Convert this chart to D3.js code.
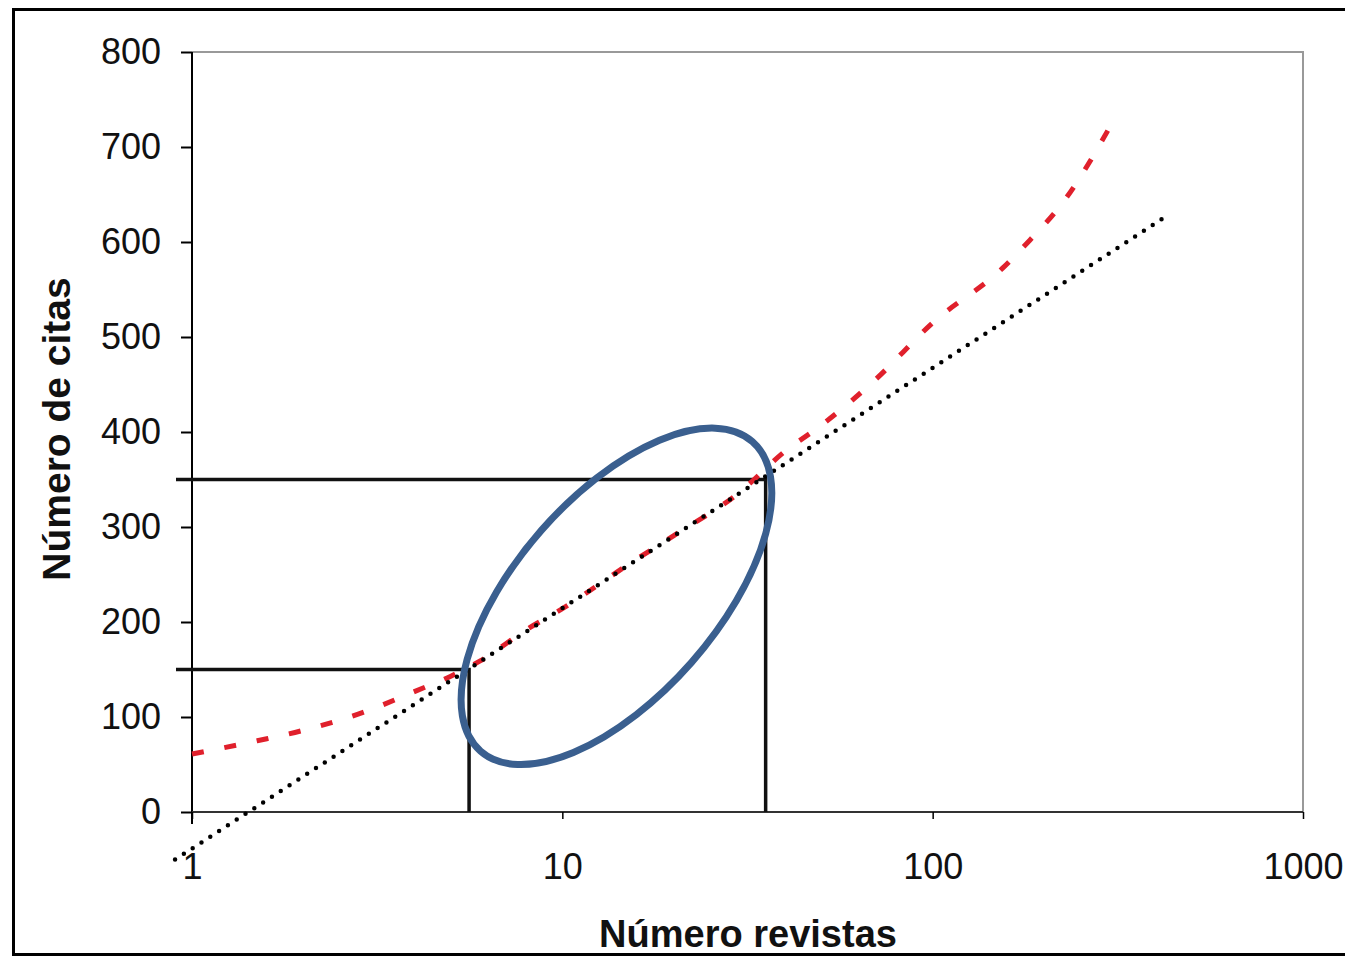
<!DOCTYPE html>
<html>
<head>
<meta charset="utf-8">
<script src="https://cdn.jsdelivr.net/npm/d3@7"></script>
<style>
  body { margin: 0; background: #fff; }
  svg { display: block; font-family: "Liberation Sans", Arial, sans-serif; }
</style>
</head>
<body>
<script>
// data
var xTicks = [1, 10, 100, 1000];
var yTicks = [0, 100, 200, 300, 400, 500, 600, 700, 800];

// red dashed curve (observed citations)
var citasX = [1, 1.5, 2, 3, 4, 5, 6, 8, 10, 15, 20, 30, 40, 50, 70, 100, 155, 176, 229, 312];
var citasY = [61, 75, 86, 107, 127, 143, 159, 192, 214, 260, 291, 336, 380, 407, 455, 515, 573, 595, 646, 732];

// dotted logarithmic trend: y = a + b*log10(x)
var trendX = [0.9, 418];
var trendA = -38.5, trendB = 253;

// reference lines (x value, y value)
var refX = [5.6, 35.4];
var refY = [150, 350];

// annotation ellipse centre in data units
var ellipseCentre = [14, 227];

function init_svg() {
    var width = 1345;
    var height = 958;
    var svg = d3.select("body")
        .append("svg")
        .attr("width", width)
        .attr("height", height);

    var left = 192, right = 1303, top = 52, bottom = 812;

    var x = d3.scaleLog().domain([1, 1000]).range([left, right]);
    var y = d3.scaleLinear().domain([0, 800]).range([bottom, top]);

    // outer frame
    svg.append("rect")
        .attr("x", 13.5).attr("y", 9.5)
        .attr("width", 1345).attr("height", 945)
        .attr("fill", "none")
        .attr("stroke", "#000")
        .attr("stroke-width", 3);

    // plot border (top/right grey)
    svg.append("path")
        .attr("d", "M" + left + "," + top + "H" + right + "V" + bottom)
        .attr("fill", "none")
        .attr("stroke", "#999")
        .attr("stroke-width", 2);

    // y axis
    var yAxis = svg.append("g")
        .attr("transform", "translate(" + left + ",0)")
        .call(d3.axisLeft(y).tickValues(yTicks).tickSize(11).tickPadding(20));
    yAxis.select(".domain").attr("stroke-width", 2).attr("d", "M0," + top + "V" + (bottom + 12));
    yAxis.selectAll(".tick line").attr("stroke-width", 2);
    yAxis.selectAll("text").attr("font-size", 36).attr("fill", "#111");

    // x axis
    var xAxis = svg.append("g")
        .attr("transform", "translate(0," + bottom + ")")
        .call(d3.axisBottom(x).tickValues(xTicks).tickFormat(d3.format("d")).tickSize(7).tickPadding(34));
    xAxis.select(".domain").attr("stroke-width", 2).attr("stroke", "#333").attr("d", "M" + left + ",0H" + right);
    xAxis.selectAll(".tick line").attr("stroke-width", 1.5);
    xAxis.selectAll("text").attr("font-size", 36).attr("fill", "#111");

    // axis titles
    svg.append("text")
        .attr("transform", "translate(70," + 429 + ") rotate(-90)")
        .attr("text-anchor", "middle")
        .attr("font-size", 39)
        .attr("font-weight", "bold")
        .attr("fill", "#111")
        .text("Número de citas");

    svg.append("text")
        .attr("x", 748).attr("y", 947)
        .attr("text-anchor", "middle")
        .attr("font-size", 38)
        .attr("font-weight", "bold")
        .attr("fill", "#111")
        .text("Número revistas");

    // reference lines
    refX.forEach(function (rx, i) {
        svg.append("path")
            .attr("d", "M" + (left - 16) + "," + y(refY[i]) + "H" + x(rx) + "V" + bottom)
            .attr("fill", "none")
            .attr("stroke", "#111")
            .attr("stroke-width", 3.5);
    });

    // red dashed curve
    var line = d3.line()
        .x(function (d) { return x(d[0]); })
        .y(function (d) { return y(d[1]); })
        .curve(d3.curveMonotoneX);
    svg.append("path")
        .datum(d3.zip(citasX, citasY))
        .attr("d", line)
        .attr("fill", "none")
        .attr("stroke", "#e0202c")
        .attr("stroke-width", 5)
        .attr("stroke-dasharray", "12,21");

    // dotted trend line
    var trend = trendX.map(function (t) { return [t, trendA + trendB * Math.log10(t)]; });
    svg.append("path")
        .datum(trend)
        .attr("d", d3.line().x(function (d) { return x(d[0]); }).y(function (d) { return y(d[1]); }))
        .attr("fill", "none")
        .attr("stroke", "#000")
        .attr("stroke-width", 4.5)
        .attr("stroke-linecap", "round")
        .attr("stroke-dasharray", "0,10.5");

    // ellipse annotation
    svg.append("ellipse")
        .attr("transform", "translate(" + x(ellipseCentre[0]) + "," + y(ellipseCentre[1]) + ") rotate(-48.7)")
        .attr("rx", 206)
        .attr("ry", 100)
        .attr("fill", "none")
        .attr("stroke", "#3a5f8f")
        .attr("stroke-width", 7);
}

init_svg();
</script>
</body>
</html>
